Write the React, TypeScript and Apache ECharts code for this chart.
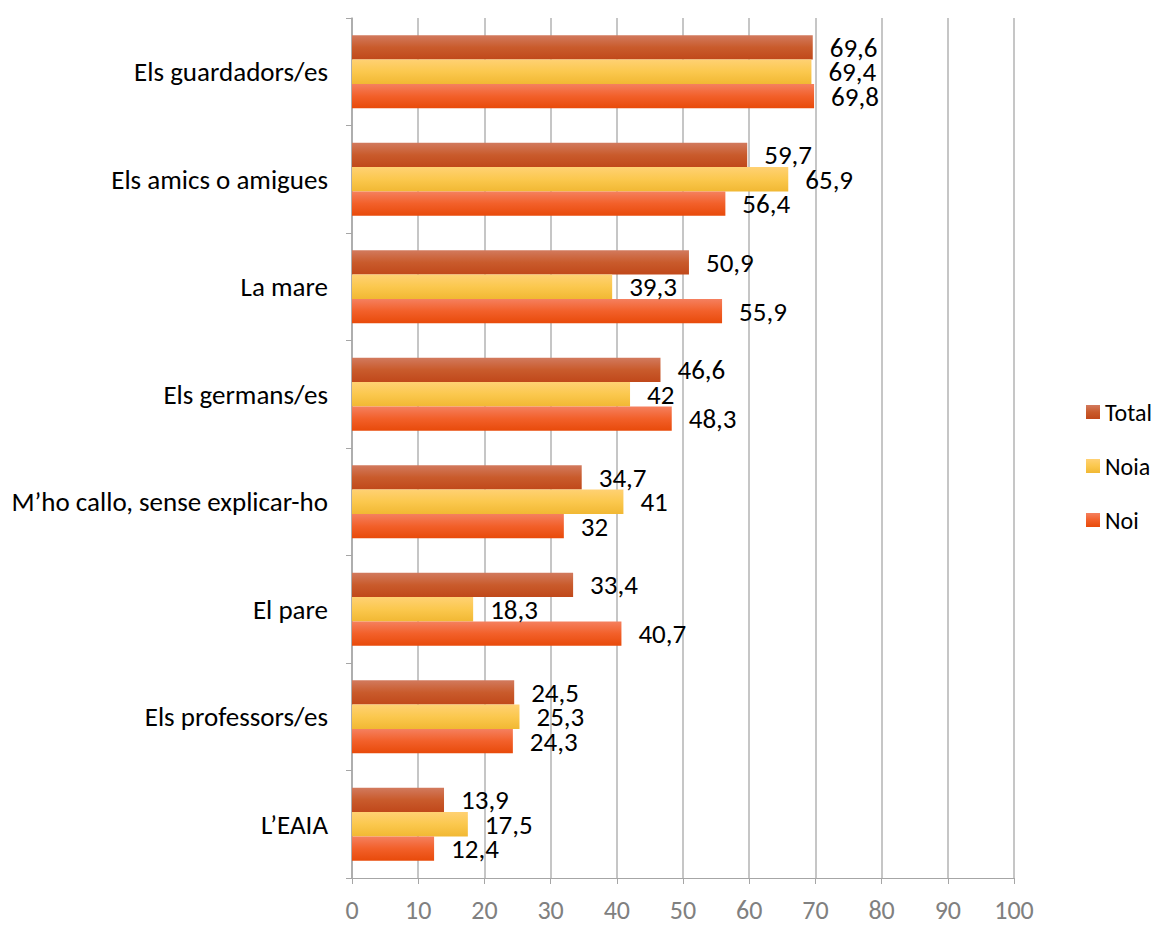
import React, { useEffect, useRef } from "react";
import * as echarts from "echarts";

const categories = [
  "Els guardadors/es",
  "Els amics o amigues",
  "La mare",
  "Els germans/es",
  "M’ho callo, sense explicar-ho",
  "El pare",
  "Els professors/es",
  "L’EAIA",
];
const totalValues = [69.6, 59.7, 50.9, 46.6, 34.7, 33.4, 24.5, 13.9];
const noiaValues = [69.4, 65.9, 39.3, 42, 41, 18.3, 25.3, 17.5];
const noiValues = [69.8, 56.4, 55.9, 48.3, 32, 40.7, 24.3, 12.4];
const xTicks = [0, 10, 20, 30, 40, 50, 60, 70, 80, 90, 100];

const FONT = "Carlito, Lato, 'Open Sans', sans-serif";

const grad = (top: string, mid: string, bottom: string) =>
  new echarts.graphic.LinearGradient(0, 0, 0, 1, [
    { offset: 0, color: top },
    { offset: 0.5, color: mid },
    { offset: 1, color: bottom },
  ]);

const fmt = (v: number) => String(v).replace(".", ",");

export default function App() {
  const ref = useRef<HTMLDivElement>(null);
  useEffect(() => {
    document.body.style.margin = "0";
    document.body.style.overflow = "hidden";
    if (!ref.current) return;
    const chart = echarts.init(ref.current, undefined, { renderer: "svg" });
    const mkSeries = (name: string, data: number[], color: any) => ({
      name,
      type: "bar",
      data,
      barGap: "0%",
      barCategoryGap: "32%",
      itemStyle: { color },
      label: {
        show: true,
        position: "right",
        distance: 17,
        fontSize: 27,
        fontFamily: FONT,
        color: "#000",
        formatter: (p: any) => fmt(p.value),
      },
    });
    chart.setOption({
      animation: false,
      textStyle: { fontFamily: FONT },
      grid: { left: 352, right: 144, top: 18, bottom: 47, containLabel: false },
      legend: {
        orient: "vertical",
        left: 1081,
        top: 395,
        itemWidth: 14,
        itemHeight: 14,
        itemGap: 30,
        icon: "rect",
        textStyle: { fontSize: 24, fontFamily: FONT, color: "#000" },
        data: ["Total", "Noia", "Noi"],
      },
      xAxis: {
        type: "value",
        min: 0,
        max: 100,
        interval: 10,
        axisLine: { show: true, lineStyle: { color: "#a6a6a6" } },
        axisTick: { show: true, length: 6, lineStyle: { color: "#a6a6a6" } },
        splitLine: { show: true, lineStyle: { color: "#b3b3b3", width: 1.5 } },
        axisLabel: {
          fontSize: 26,
          fontFamily: FONT,
          color: "#808080",
          margin: 19,
          formatter: (v: number) => (xTicks.includes(v) ? String(v) : ""),
        },
      },
      yAxis: {
        type: "category",
        data: categories,
        inverse: true,
        axisLine: { show: true, lineStyle: { color: "#a6a6a6", width: 1.5 } },
        axisTick: { show: true, length: 6, lineStyle: { color: "#a6a6a6" } },
        axisLabel: {
          fontSize: 27,
          fontFamily: FONT,
          color: "#000",
          margin: 24,
        },
      },
      series: [
        mkSeries("Total", totalValues, grad("#d27a5e", "#c95b2c", "#c0481a")),
        mkSeries("Noia", noiaValues, grad("#ffd173", "#fbc84e", "#f1b833")),
        mkSeries("Noi", noiValues, grad("#f5805f", "#f2602a", "#e84a0a")),
      ],
    });
    return () => chart.dispose();
  }, []);
  return <div ref={ref} style={{ width: 1158, height: 925 }} />;
}
